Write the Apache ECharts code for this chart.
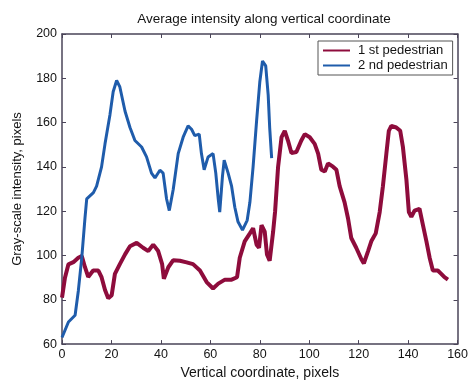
<!DOCTYPE html>
<html><head><meta charset="utf-8">
<script src="https://cdn.jsdelivr.net/npm/echarts@6/dist/echarts.min.js"></script>
<style>html,body{margin:0;padding:0;background:#fff}#c{width:471px;height:385px}</style>
</head><body><div id="c"></div>
<script>
const titleText = "Average intensity along vertical coordinate";
const xName = "Vertical coordinate, pixels";
const yName = "Gray-scale intensity, pixels";
const seriesNames = ["1 st pedestrian", "2 nd pedestrian"];
const xTicks = [0, 20, 40, 60, 80, 100, 120, 140, 160];
const yTicks = [60, 80, 100, 120, 140, 160, 180, 200];

const redX = [0,1.2,2.6,4.6,6.6,8,9.3,10.6,12.6,14.7,16,17.4,18.7,20.1,21.4,23.4,25.5,27.5,30.2,32.8,34.9,36.9,38.9,40.5,41.2,43,45,47.7,50.4,53,55.8,58.5,61.1,63.2,65.9,68.6,70.8,71.9,73.9,76,77.3,78.7,79.7,80.7,82,82.9,84,85.4,86.2,87.4,88.8,90.1,91.4,92.8,94.8,96.8,98.2,100.2,102.2,103.6,104.9,106.3,107.6,109.6,111,112.3,114.3,115.7,117,119,121.1,122.1,123.8,125.1,126.9,128.5,129.8,131.2,132.2,133.2,135.2,136.8,137.9,139.3,140.3,141.3,142.6,144.6,146,147.4,148.7,150,152,153.4,154.7,156.1];
const redY = [81,90,96,97,99,99.8,94.7,90.3,93.2,93.2,90.2,84.4,80.7,82.1,91.7,96.1,100.5,104.2,105.7,103.5,102,104.9,102,96.1,89.5,94.7,97.9,97.6,96.9,96.1,93.2,88,85.1,87.3,89.1,89.1,90.2,99,106.4,110,112.3,104.9,103.5,113.7,110.8,100.5,97.6,110.8,120,140,153.4,156.3,151.9,146.3,146.7,151.9,154.8,153.4,150.4,146,138.7,137.9,141.6,140.1,138.7,131.3,124,116.7,107.9,103.5,98.3,96.4,102,106.4,110,119.6,131.3,146,156.3,158.5,157.8,156.3,148.9,134.3,119.6,117.4,120.3,121.1,113.7,106.4,99,93.2,93.2,91.7,90.2,89.1];

const blueX = [0,2.6,5.3,6.6,8,9.3,10,12.7,14,16,17.4,19.4,20.7,22.1,23.4,25.5,27.5,29.5,32.2,34.2,36.2,37.6,39.6,40.9,42.3,43.4,45,47,49,51,52.4,53.7,55.5,56.4,57.5,59.1,61.1,62.2,63.2,63.8,64.9,65.6,67.2,68.6,69.9,71.2,73,74.9,76,77.3,78.7,80,81.1,82.4,83.4,84,84.8];
const blueY = [63,70,73,84,99,117,125.6,128.4,131.3,140,150.4,163.6,173.9,179,176.1,165.1,157.8,151.9,149,144.5,137.2,135,138.5,137.2,125.5,120.3,129.9,146,153.4,158.5,157,154.1,154.8,146,138.7,144.5,146,137.2,125.5,119.6,135.7,143,137.2,131.3,121.8,115.2,111.5,115.9,124,140.1,160.7,178.3,187.8,185.6,172.4,157.8,144];

const pairs = (xs, ys) => xs.map((x, i) => [x, ys[i]]);
const FONT = "Liberation Sans";
const TXT = "#141414";
const axisCol = "#4a4458";
const chart = echarts.init(document.getElementById('c'));
const baseX = {
  type: 'value', min: xTicks[0], max: xTicks[xTicks.length-1], interval: 20,
  axisLine: {show: true, onZero: false, lineStyle: {color: axisCol, width: 1.5}},
  axisTick: {show: true, inside: true, length: 4, lineStyle: {color: axisCol}},
  splitLine: {show: false}
};
const baseY = {
  type: 'value', min: yTicks[0], max: yTicks[yTicks.length-1], interval: 20,
  axisLine: {show: true, onZero: false, lineStyle: {color: axisCol, width: 1.5}},
  axisTick: {show: true, inside: true, length: 4, lineStyle: {color: axisCol}},
  splitLine: {show: false}
};
chart.setOption({
  animation: false,
  backgroundColor: '#fff',
  title: {text: titleText, left: 259, top: 7, textAlign: 'center',
    textStyle: {fontFamily: FONT, fontSize: 13.5, fontWeight: 'normal', color: TXT}},
  grid: {left: 62, right: 13, top: 34, bottom: 33},
  legend: {
    orient: 'vertical', left: 318, top: 41,
    data: [{name: seriesNames[0], icon: 'rect'}, {name: seriesNames[1], icon: 'rect'}],
    itemWidth: 27, itemHeight: 2, itemGap: 2,
    backgroundColor: '#fff', borderColor: '#555', borderWidth: 1, padding: [3, 5, 3, 5],
    textStyle: {fontFamily: FONT, fontSize: 13, color: TXT, padding: [0, 0, 0, 3]}
  },
  xAxis: [
    Object.assign({}, baseX, {position: 'bottom', name: xName, nameLocation: 'middle', nameGap: 18,
      nameTextStyle: {fontFamily: FONT, fontSize: 14, color: TXT},
      axisLabel: {fontFamily: FONT, fontSize: 12.5, color: TXT, margin: 4}}),
    Object.assign({}, baseX, {position: 'top', axisLabel: {show: false}})
  ],
  yAxis: [
    Object.assign({}, baseY, {position: 'left', name: yName, nameLocation: 'middle', nameGap: 38,
      nameTextStyle: {fontFamily: FONT, fontSize: 13, color: TXT},
      axisLabel: {fontFamily: FONT, fontSize: 12.5, color: TXT, margin: 5}}),
    Object.assign({}, baseY, {position: 'right', axisLabel: {show: false}})
  ],
  series: [
    {name: seriesNames[0], type: 'line', data: pairs(redX, redY), showSymbol: false,
      color: '#8e0c3c', lineStyle: {color: '#8e0c3c', width: 4}, z: 2},
    {name: seriesNames[1], type: 'line', data: pairs(blueX, blueY), showSymbol: false,
      color: '#1f5cab', lineStyle: {color: '#1f5cab', width: 3}, z: 3}
  ]
});
</script></body></html>
